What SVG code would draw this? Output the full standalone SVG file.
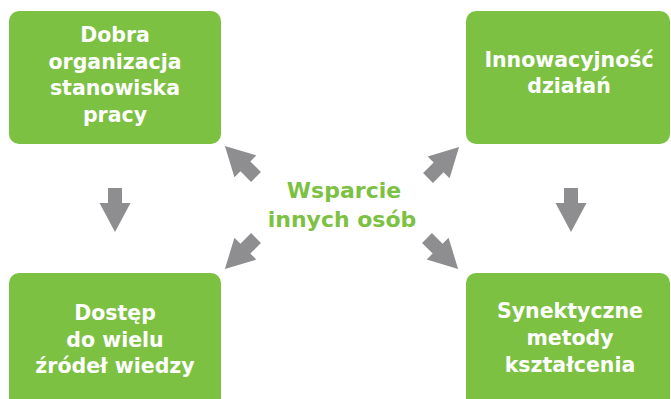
<svg xmlns="http://www.w3.org/2000/svg" width="671" height="399" viewBox="0 0 671 399">
  <style>
    .box { fill: #7cc142; }
    .label { font-family: "DejaVu Sans", "Liberation Sans", sans-serif; font-weight: bold; font-size: 20.5px; fill: #ffffff; text-anchor: middle; }
    .hub { font-family: "DejaVu Sans", "Liberation Sans", sans-serif; font-weight: bold; font-size: 22px; fill: #7cc142; text-anchor: middle; }
    .arrow { fill: #8e8e91; }
  </style>
  <defs>
    <!-- block arrow: tail at origin, pointing along +y, tip at (0,44) -->
    <path id="blockArrow" d="M -7 0 L 7 0 L 7 15 L 15.5 15 L 0 44 L -15.5 15 L -7 15 Z"/>
  </defs>
  <rect width="671" height="399" fill="#ffffff"/>

  <g id="node-organizacja">
    <rect class="box" x="9" y="11" width="212" height="133" rx="10"/>
    <text class="label" x="115" y="42">Dobra</text>
    <text class="label" x="115" y="68.5">organizacja</text>
    <text class="label" x="115" y="95">stanowiska</text>
    <text class="label" x="115" y="121.5">pracy</text>
  </g>

  <g id="node-innowacyjnosc">
    <rect class="box" x="466" y="11" width="204" height="133" rx="10"/>
    <text class="label" x="569" y="67">Innowacyjność</text>
    <text class="label" x="569" y="93">działań</text>
  </g>

  <g id="node-dostep">
    <rect class="box" x="9" y="273" width="212" height="140" rx="10"/>
    <text class="label" x="115" y="320">Dostęp</text>
    <text class="label" x="115" y="347">do wielu</text>
    <text class="label" x="115" y="373">źródeł wiedzy</text>
  </g>

  <g id="node-synektyczne">
    <rect class="box" x="466" y="273" width="204" height="140" rx="10"/>
    <text class="label" x="570" y="318">Synektyczne</text>
    <text class="label" x="570" y="345">metody</text>
    <text class="label" x="570" y="372">kształcenia</text>
  </g>

  <g id="node-wsparcie">
    <text class="hub" x="344" y="198">Wsparcie</text>
    <text class="hub" x="342" y="227">innych osób</text>
  </g>

  <g id="connectors" class="arrow">
    <use href="#blockArrow" transform="translate(115,188)"/>
    <use href="#blockArrow" transform="translate(571,188)"/>
    <use href="#blockArrow" transform="translate(256,177) rotate(135)"/>
    <use href="#blockArrow" transform="translate(428,178) rotate(-135)"/>
    <use href="#blockArrow" transform="translate(256,238) rotate(45)"/>
    <use href="#blockArrow" transform="translate(427,238) rotate(-45)"/>
  </g>
</svg>
